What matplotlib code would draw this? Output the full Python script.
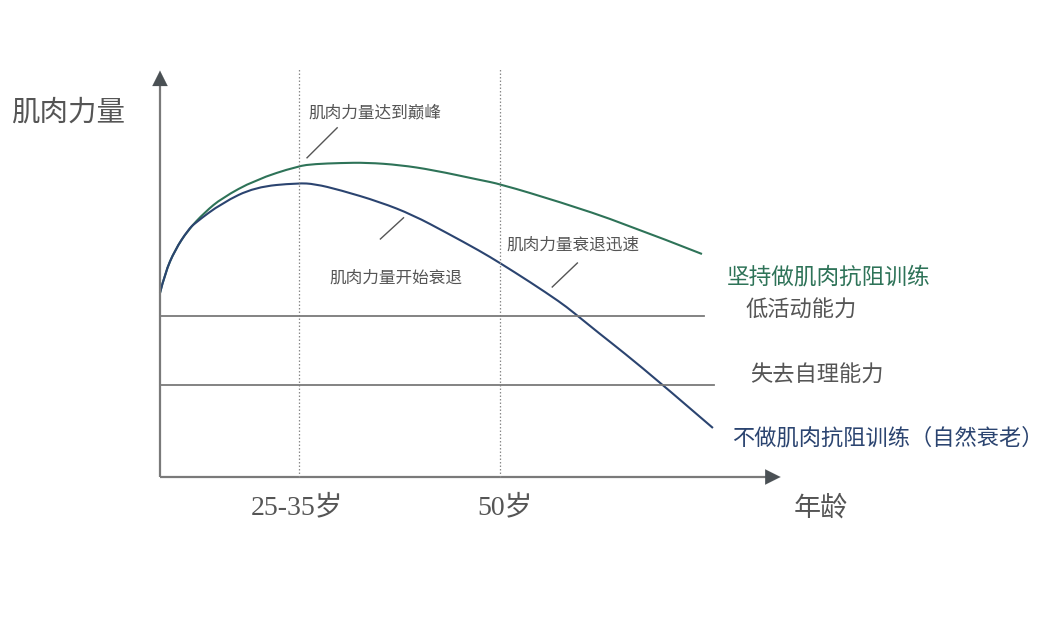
import matplotlib
matplotlib.use('Agg')
import matplotlib.pyplot as plt
from matplotlib.path import Path
from matplotlib.patches import PathPatch

plt.rcParams['font.family'] = ['Noto Sans CJK SC', 'DejaVu Sans']

# -------- data (age in years, muscle strength in arbitrary units) --------
age_train = [16.17, 16.67, 17.66, 18.96, 20.65, 22.34, 25.62, 29.9, 31.59, 34.08,
             36.77, 40.05, 43.33, 48.01, 50.0, 55.97, 62.24, 70.1]
str_train = [46.0, 51.0, 56.75, 61.75, 66.25, 69.75, 74.25, 77.75, 78.25, 78.5,
             78.6, 78.0, 76.75, 74.25, 73.25, 68.75, 63.5, 55.75]

age_none = [16.17, 16.67, 17.66, 18.96, 19.65, 22.34, 25.62, 29.9, 31.59, 34.08,
            38.06, 41.34, 44.73, 48.01, 50.0, 52.99, 55.97, 57.26, 59.95, 62.24,
            66.22, 71.19]
str_none = [46.0, 51.0, 56.75, 61.75, 63.5, 68.5, 72.5, 73.5, 73.25, 71.75,
            68.75, 65.5, 61.0, 56.5, 53.5, 48.75, 43.75, 41.25, 35.75, 31.25,
            23.0, 12.25]

level_low_activity = 40.25
level_dependent = 23.0
marker_ages = [30, 50]
tick_labels = ['25-35岁', '50岁']

# -------- styles --------
c_axis = '#7a7a7a'
c_head = '#4a5054'
c_text = '#555555'
c_green = '#2e7358'
c_blue = '#2b4470'


def smooth_path(xs, ys):
    # quadratic bezier through midpoints so the polyline reads as a curve
    pts = list(zip(xs, ys))
    verts = [pts[0]]
    codes = [Path.MOVETO]
    for i in range(1, len(pts) - 1):
        mid = ((pts[i][0] + pts[i + 1][0]) / 2, (pts[i][1] + pts[i + 1][1]) / 2)
        if i == len(pts) - 2:
            mid = pts[-1]
        verts += [pts[i], mid]
        codes += [Path.CURVE3, Path.CURVE3]
    return Path(verts, codes)


fig = plt.figure(figsize=(10.48, 6.31), dpi=100)
ax = fig.add_axes([0, 0, 1, 1])
ax.set_xlim(0.25, 104.53)
ax.set_ylim(-38.5, 119.25)
ax.axis('off')

x0 = age_train[0]

# axes with arrows
ax.plot([x0, 76.6], [0, 0], color=c_axis, lw=1.6, solid_capstyle='butt')
ax.plot([x0, x0], [0, 98.0], color=c_axis, lw=1.6, solid_capstyle='butt')
ax.annotate('', xy=(78.2, 0), xytext=(76.0, 0),
            arrowprops=dict(arrowstyle='-|>,head_length=1.1,head_width=0.55',
                            color=c_head, lw=0.1))
ax.annotate('', xy=(x0, 102.3), xytext=(x0, 96.0),
            arrowprops=dict(arrowstyle='-|>,head_length=1.1,head_width=0.55',
                            color=c_head, lw=0.1))

# dotted age markers
for a in marker_ages:
    ax.plot([a, a], [0, 102.3], color='#8a8a8a', lw=0.9, ls=(0, (1.2, 1.6)))

# threshold lines
ax.plot([x0, 70.3], [level_low_activity] * 2, color=c_axis, lw=1.3)
ax.plot([x0, 71.3], [level_dependent] * 2, color=c_axis, lw=1.3)

# curves
ax.add_patch(PathPatch(smooth_path(age_train, str_train), fill=False,
                       edgecolor=c_green, lw=1.5))
ax.add_patch(PathPatch(smooth_path(age_none, str_none), fill=False,
                       edgecolor=c_blue, lw=1.5))

# axis labels
ax.text(7.0, 91.2, '肌肉力量', fontsize=20.5, color=c_text, ha='center', va='center')
ax.text(81.9, -7.7, '年龄', fontsize=19.5, color=c_text, ha='center', va='center')
for a, lab in zip(marker_ages, tick_labels):
    ax.text(a - 0.2 if a == 30 else a + 0.5, -7.7, lab, fontsize=20, color=c_text,
            ha='center', va='center',
            family=['Liberation Serif', 'Noto Sans CJK SC'])

# annotations with leader lines
ax.text(37.6, 91.0, '肌肉力量达到巅峰', fontsize=12, color=c_text, ha='center', va='center')
ax.plot([30.8, 33.8], [79.8, 87.3], color=c_text, lw=1.0)

ax.text(39.6, 49.8, '肌肉力量开始衰退', fontsize=12, color=c_text, ha='center', va='center')
ax.plot([38.1, 40.4], [59.5, 64.8], color=c_text, lw=1.0)

ax.text(57.3, 58.0, '肌肉力量衰退迅速', fontsize=12, color=c_text, ha='center', va='center')
ax.plot([55.2, 57.7], [47.5, 53.5], color=c_text, lw=1.0)

# right-side labels
ax.text(72.6, 50.0, '坚持做肌肉抗阻训练', fontsize=16.3, color=c_green, ha='left', va='center')
ax.text(74.4, 41.7, '低活动能力', fontsize=16, color=c_text, ha='left', va='center')
ax.text(74.9, 25.5, '失去自理能力', fontsize=16, color=c_text, ha='left', va='center')
ax.text(73.1, 9.8, '不做肌肉抗阻训练（自然衰老）', fontsize=16, color=c_blue, ha='left', va='center')

fig.savefig('out.png', dpi=100, facecolor='white')
